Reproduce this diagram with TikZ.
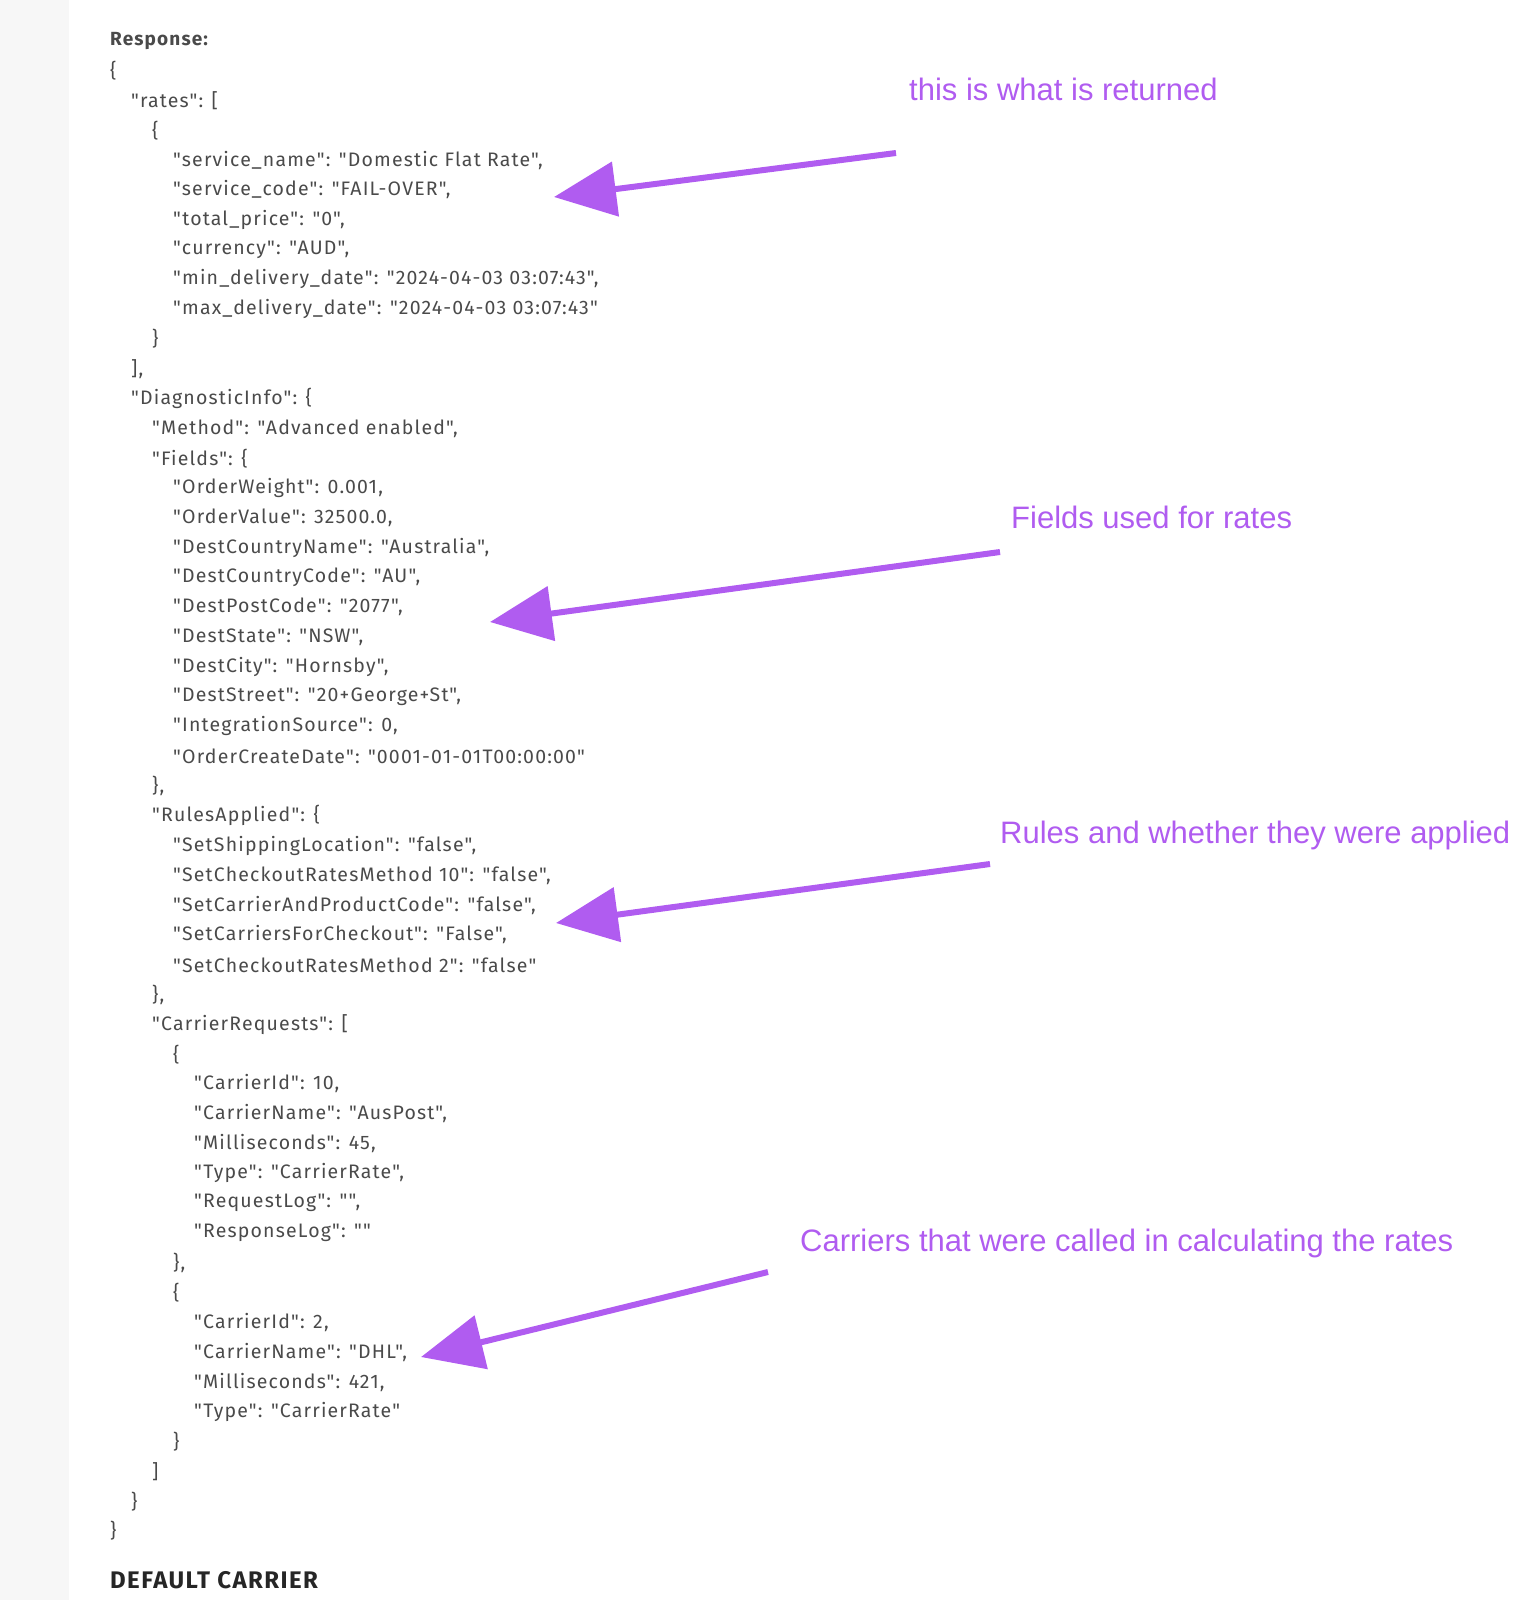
\documentclass[tikz,border=0pt]{standalone}
\usepackage{fontspec}
\setmainfont{Fira Sans}[Ligatures=TeXOff,LetterSpace=6]
\newfontfamily\annfont{Liberation Sans}
\usetikzlibrary{arrows.meta}
\definecolor{jgray}{HTML}{4A4A4A}
\definecolor{purp}{HTML}{B05CF0}
\definecolor{strip}{HTML}{F7F7F7}
\tikzset{
  jt/.style={anchor=west,inner sep=0pt,text=jgray,font=\fontsize{19.5}{22}\selectfont},
  ann/.style={anchor=west,inner sep=0pt,text=purp,font=\annfont\fontsize{31}{34}\selectfont},
  parrow/.style={draw=purp,line width=6pt,-{Triangle[length=62pt,width=54pt]}}
}
\newcommand\jl[3]{\node[jt] (l#1) at ({110+21*#2},{41+29.8*(#1-1)}) {#3};}
\begin{document}
\begin{tikzpicture}[x=1pt,y=-1pt]
\useasboundingbox (0,0) rectangle (1512,1600);
\fill[strip] (0,0) rectangle (69,1600);
\node[jt,font=\bfseries\fontsize{19}{22}\selectfont] (l1) at (110,41) {Response:};
\jl{2}{0}{\{}
\jl{3}{1}{"rates": [}
\jl{4}{2}{\{}
\jl{5}{3}{"service\_name": "Domestic Flat Rate",}
\jl{6}{3}{"service\_code": "FAIL-OVER",}
\jl{7}{3}{"total\_price": "0",}
\jl{8}{3}{"currency": "AUD",}
\jl{9}{3}{"min\_delivery\_date": "2024-04-03 03:07:43",}
\jl{10}{3}{"max\_delivery\_date": "2024-04-03 03:07:43"}
\jl{11}{2}{\}}
\jl{12}{1}{],}
\jl{13}{1}{"DiagnosticInfo": \{}
\jl{14}{2}{"Method": "Advanced enabled",}
\jl{15}{2}{"Fields": \{}
\jl{16}{3}{"OrderWeight": 0.001,}
\jl{17}{3}{"OrderValue": 32500.0,}
\jl{18}{3}{"DestCountryName": "Australia",}
\jl{19}{3}{"DestCountryCode": "AU",}
\jl{20}{3}{"DestPostCode": "2077",}
\jl{21}{3}{"DestState": "NSW",}
\jl{22}{3}{"DestCity": "Hornsby",}
\jl{23}{3}{"DestStreet": "20+George+St",}
\jl{24}{3}{"IntegrationSource": 0,}
\jl{25}{3}{"OrderCreateDate": "0001-01-01T00:00:00"}
\jl{26}{2}{\},}
\jl{27}{2}{"RulesApplied": \{}
\jl{28}{3}{"SetShippingLocation": "false",}
\jl{29}{3}{"SetCheckoutRatesMethod 10": "false",}
\jl{30}{3}{"SetCarrierAndProductCode": "false",}
\jl{31}{3}{"SetCarriersForCheckout": "False",}
\jl{32}{3}{"SetCheckoutRatesMethod 2": "false"}
\jl{33}{2}{\},}
\jl{34}{2}{"CarrierRequests": [}
\jl{35}{3}{\{}
\jl{36}{4}{"CarrierId": 10,}
\jl{37}{4}{"CarrierName": "AusPost",}
\jl{38}{4}{"Milliseconds": 45,}
\jl{39}{4}{"Type": "CarrierRate",}
\jl{40}{4}{"RequestLog": "",}
\jl{41}{4}{"ResponseLog": ""}
\jl{42}{3}{\},}
\jl{43}{3}{\{}
\jl{44}{4}{"CarrierId": 2,}
\jl{45}{4}{"CarrierName": "DHL",}
\jl{46}{4}{"Milliseconds": 421,}
\jl{47}{4}{"Type": "CarrierRate"}
\jl{48}{3}{\}}
\jl{49}{2}{]}
\jl{50}{1}{\}}
\jl{51}{0}{\}}
\node[anchor=west,inner sep=0pt,text=black!85,font=\bfseries\fontsize{24}{26}\selectfont] (dc) at (110,1580) {DEFAULT CARRIER};
\node[ann] (t1) at (909,89) {this is what is returned};
\node[ann] (t2) at (1011,517) {Fields used for rates};
\node[ann] (t3) at (1000,835) {Rules and whether they were applied};
\node[ann] (t4) at (800,1243) {Carriers that were called in calculating the rates};
\coordinate (a1s) at (896,153); \coordinate (a1e) at (554,197);
\coordinate (a2s) at (1000,552); \coordinate (a2e) at (490,622);
\coordinate (a3s) at (990,864); \coordinate (a3e) at (556,923);
\coordinate (a4s) at (768,1272); \coordinate (a4e) at (421,1357);
\draw[parrow] (a1s) -- (a1e);
\draw[parrow] (a2s) -- (a2e);
\draw[parrow] (a3s) -- (a3e);
\draw[parrow] (a4s) -- (a4e);
\end{tikzpicture}
\end{document}
